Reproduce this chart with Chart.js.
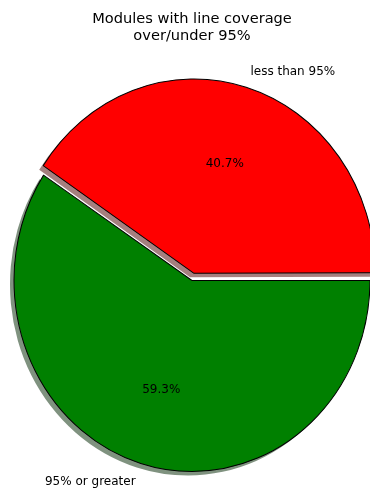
<!DOCTYPE html>
<html>
<head>
<meta charset="utf-8">
<script src="https://cdn.jsdelivr.net/npm/chart.js@4/dist/chart.umd.min.js"></script>
<style>
  html, body { margin: 0; padding: 0; background: #fff; }
  #wrap { width: 370px; height: 489px; }
</style>
</head>
<body>
<div id="wrap"><canvas id="pie"></canvas></div>
<script>
// data
const labels = ['less than 95%', '95% or greater'];
const values = [40.7, 59.3];
const titleLines = ['Modules with line coverage', 'over/under 95%'];

// styling
const colors = ['#ff0000', '#008000'];
const shadowColors = ['rgba(77,0,0,0.5)', 'rgba(0,38,0,0.5)'];
const explode = [28, 0];         // chart.js arc offset (moves wedge offset/4 px)
const squash = 1.073;            // pie is drawn a bit taller than wide
const shadowDx = -4, shadowDy = 4;
const total = values.reduce((a, b) => a + b, 0);
const startRotation = 90 - 360 * values[0] / total; // first wedge ends at 3 o'clock

function ellipse(ctx, arc) {
  ctx.translate(arc.x, arc.y);
  ctx.scale(1, squash);
  ctx.translate(-arc.x, -arc.y);
}

function arcShift(arc) {
  return (arc.options.offset || 0) / 4;
}

const piePlugin = {
  id: 'piePlugin',
  beforeDatasetsDraw(chart) {
    const ctx = chart.ctx;
    const arcs = chart.getDatasetMeta(0).data;
    // shadows first, under every wedge
    ctx.save();
    ctx.translate(shadowDx, shadowDy);
    ellipse(ctx, arcs[0]);
    arcs.forEach((arc, i) => {
      const o = arc.options;
      arc.options = Object.assign({}, o, { backgroundColor: shadowColors[i], borderWidth: 0 });
      arc.draw(ctx);
      arc.options = o;
    });
    ctx.restore();
    ctx.save();
    ellipse(ctx, arcs[0]);
  },
  afterDatasetsDraw(chart) {
    const ctx = chart.ctx;
    ctx.restore();
    const arcs = chart.getDatasetMeta(0).data;
    ctx.save();
    ctx.fillStyle = '#000';
    ctx.font = '12px "DejaVu Sans"';
    ctx.textBaseline = 'middle';
    arcs.forEach((arc, i) => {
      const mid = (arc.startAngle + arc.endAngle) / 2;
      const c = Math.cos(mid), s = Math.sin(mid);
      const d = arcShift(arc);
      const cx = arc.x + c * d;
      const cy = arc.y + s * d * squash;
      const r = arc.outerRadius;
      // percentage inside
      ctx.textAlign = 'center';
      const pct = (values[i] / total * 100).toFixed(1) + '%';
      ctx.fillText(pct, cx + 0.6 * r * c, cy + 0.6 * r * s * squash);
      // label outside
      ctx.textAlign = c >= 0 ? 'left' : 'right';
      ctx.fillText(labels[i], cx + 1.1 * r * c, cy + 1.1 * r * s * squash);
    });
    ctx.restore();
  }
};

new Chart(document.getElementById('pie'), {
  type: 'pie',
  data: {
    labels: labels,
    datasets: [{
      data: values,
      backgroundColor: colors,
      borderColor: '#000',
      borderWidth: 1,
      offset: explode,
      hoverOffset: 0
    }]
  },
  options: {
    responsive: true,
    maintainAspectRatio: false,
    devicePixelRatio: 1,
    animation: false,
    events: [],
    rotation: startRotation,
    radius: 178,
    layout: { padding: { left: 14, right: 0, top: 0, bottom: 0 } },
    plugins: {
      legend: { display: false },
      tooltip: { enabled: false },
      title: {
        display: true,
        text: titleLines,
        color: '#000',
        font: { family: '"DejaVu Sans"', size: 14.6, weight: 'normal', lineHeight: 1.2 },
        padding: { top: 10, bottom: 27 }
      }
    }
  },
  plugins: [piePlugin]
});
</script>
</body>
</html>
